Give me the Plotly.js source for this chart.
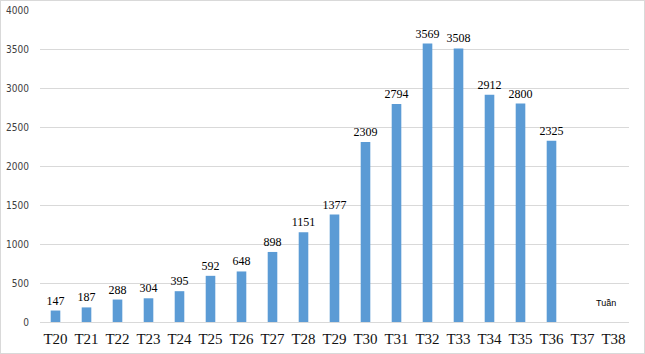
<!DOCTYPE html>
<html><head><meta charset="utf-8">
<script src="https://cdn.plot.ly/plotly-3.0.1.min.js"></script>
<style>html,body{margin:0;padding:0;background:#fff}#c{width:645px;height:354px;box-sizing:border-box;border:1px solid #d9d9d9}</style>
</head><body><div id="c"></div>
<script>
const weeks = ["T20","T21","T22","T23","T24","T25","T26","T27","T28","T29","T30","T31","T32","T33","T34","T35","T36","T37","T38"];
const cases = [147,187,288,304,395,592,648,898,1151,1377,2309,2794,3569,3508,2912,2800,2325,null,null];
const yTicks = [0,500,1000,1500,2000,2500,3000,3500,4000];
const labels = cases.map(v => v == null ? "" : String(v));

Plotly.newPlot("c", [{
  type: "bar", x: weeks, y: cases, text: labels, textposition: "outside", constraintext: "none",
  textangle: 0,
  textfont: {family: "Liberation Serif, Times New Roman, serif", size: 12, color: "#000"},
  cliponaxis: false,
  marker: {color: "#5B9BD5"}, hoverinfo: "none"
}], {
  width: 643, height: 352,
  margin: {l: 39, r: 15, t: 9, b: 31},
  paper_bgcolor: "#fff", plot_bgcolor: "#fff",
  bargap: 0.69, showlegend: false, uniformtext: {mode: false},
  xaxis: {type: "category", showgrid: false, zeroline: false, showline: false, ticks: "",
    ticklabelstandoff: 6,
    tickfont: {family: "Liberation Serif, Times New Roman, serif", size: 15, color: "#111"}},
  yaxis: {range: [0, 4000], tickvals: yTicks, showgrid: true, gridcolor: "#d9d9d9", gridwidth: 1,
    zeroline: true, zerolinecolor: "#d9d9d9", showline: false, ticks: "", ticklabelstandoff: 10,
    tickfont: {family: "DejaVu Sans Condensed, Liberation Sans Narrow, sans-serif", size: 10, color: "#404040"}},
  annotations: [{text: "Tuần", xref: "paper", yref: "paper", x: 0.961, y: 0.061, xanchor: "center", yanchor: "middle",
    showarrow: false,
    font: {family: "Liberation Sans, Arial, sans-serif", size: 9, color: "#000"}}]
}, {displayModeBar: false, staticPlot: true});
</script></body></html>
